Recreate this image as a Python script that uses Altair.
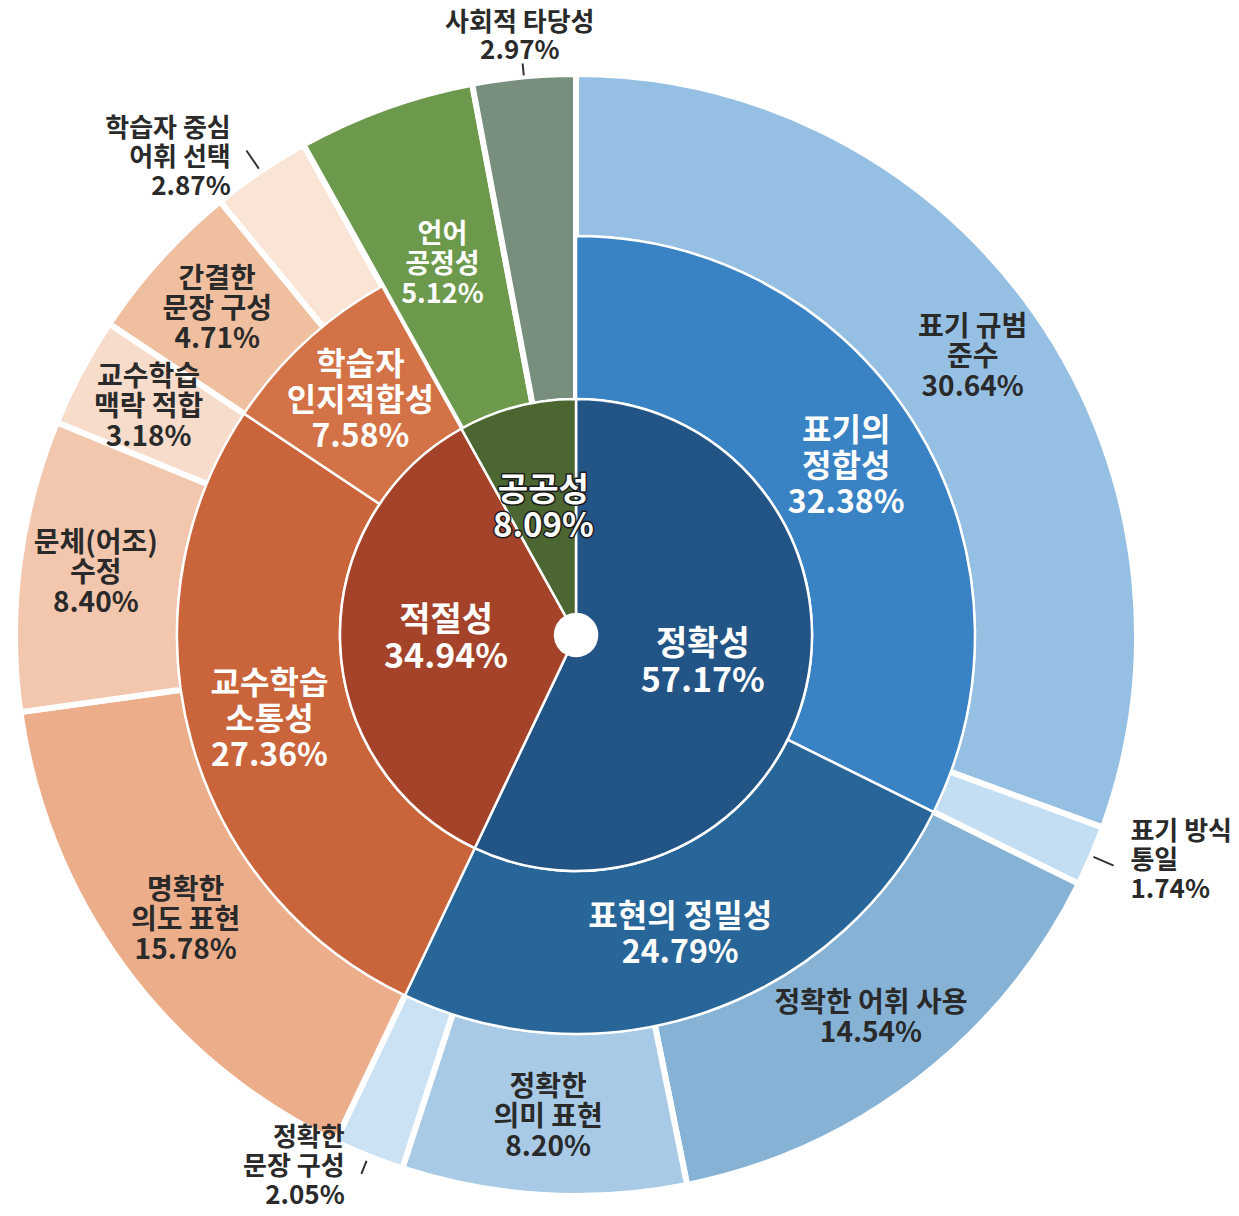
import math
import altair as alt
import pandas as pd

# ---------------- data ----------------
inner_names = ["정확성", "적절성", "공공성"]
inner_values = [57.17, 34.94, 8.09]
inner_display = ["정확성", "적절성", "공공성"]

middle_names = ["표기의 정합성", "표현의 정밀성", "교수학습 소통성", "학습자 인지적합성"]
middle_values = [32.38, 24.79, 27.36, 7.58]
middle_display = ["표기의\n정합성", "표현의 정밀성", "교수학습\n소통성", "학습자\n인지적합성"]

outer_names = ["표기 규범 준수", "표기 방식 통일", "정확한 어휘 사용", "정확한 의미 표현",
               "정확한 문장 구성", "명확한 의도 표현", "문체(어조) 수정", "교수학습 맥락 적합",
               "간결한 문장 구성", "학습자 중심 어휘 선택", "언어 공정성", "사회적 타당성"]
outer_values = [30.64, 1.74, 14.54, 8.20, 2.05, 15.78, 8.40, 3.18, 4.71, 2.87, 5.12, 2.97]
outer_display = ["표기 규범\n준수", "표기 방식\n통일", "정확한 어휘 사용", "정확한\n의미 표현",
                 "정확한\n문장 구성", "명확한\n의도 표현", "문체(어조)\n수정", "교수학습\n맥락 적합",
                 "간결한\n문장 구성", "학습자 중심\n어휘 선택", "언어\n공정성", "사회적 타당성"]
outer_parents = ["표기의 정합성", "표기의 정합성", "표현의 정밀성", "표현의 정밀성", "표현의 정밀성",
                 "교수학습 소통성", "교수학습 소통성", "교수학습 소통성",
                 "학습자 인지적합성", "학습자 인지적합성", "공공성", "공공성"]

# ---------------- styles ----------------
inner_colors = ["#235486", "#A4432A", "#4C6631"]
middle_colors = ["#3982C4", "#286699", "#CA643A", "#D27246"]
outer_colors = ["#96C0E3", "#C3DDF2", "#86B2D6", "#A8CAE6", "#CBE2F4",
                "#ECAE8A", "#F3C7AD", "#F8DCCB", "#EFBFA0", "#FAE4D6",
                "#6D994D", "#788F7E"]

FONT = "Noto Sans CJK KR"
DARK = "#2a2a2a"
CX, CY = 568, 627


def ring_df(names, values, display, parents=None):
    starts, acc = [], 0.0
    for v in values:
        starts.append(acc)
        acc += v
    return pd.DataFrame({
        "name": names,
        "value": values,
        "start": starts,
        "end": [s + v for s, v in zip(starts, values)],
        "mid": [s + v / 2 for s, v in zip(starts, values)],
        "label": [f"{d}\n{v:.2f}%" for d, v in zip(display, values)],
        "parent": parents if parents else names,
    })


inner_df = ring_df(inner_names, inner_values, inner_display)
middle_df = ring_df(middle_names, middle_values, middle_display)
outer_df = ring_df(outer_names, outer_values, outer_display, outer_parents)

total = sum(inner_values)
theta_scale = alt.Scale(domain=[0, total], range=[0, 2 * math.pi])
color_scale = alt.Scale(domain=inner_names + middle_names + outer_names,
                        range=inner_colors + middle_colors + outer_colors)

pos = dict(x=alt.value(CX), y=alt.value(CY))


def arc_layer(df, names, r0, r1, sw):
    return alt.Chart(df).transform_filter(
        alt.FieldOneOfPredicate(field="name", oneOf=names)
    ).mark_arc(innerRadius=r0, outerRadius=r1, stroke="white", strokeWidth=sw).encode(
        theta=alt.Theta("start:Q", scale=theta_scale, stack=False),
        theta2=alt.Theta2("end"),
        color=alt.Color("name:N", scale=color_scale, legend=None),
        **pos,
    )


def texts(df, names, radius, size, lh, fill, align="center", dx=0, dy=0, **kw):
    """One text layer per line count, so every label block is centred on its anchor."""
    groups = {}
    for n in names:
        lbl = df.loc[df["name"] == n, "label"].iloc[0]
        groups.setdefault(lbl.count("\n") + 1, []).append(n)
    out = []
    for nlines, grp in groups.items():
        out.append(alt.Chart(df).transform_filter(
            alt.FieldOneOfPredicate(field="name", oneOf=grp)
        ).mark_text(radius=radius, font=FONT, fontWeight="bold", fontSize=size,
                    lineHeight=lh, lineBreak="\n", fill=fill, align=align,
                    baseline="middle", dx=dx, dy=dy - (nlines - 1) * lh / 2, **kw).encode(
            theta=alt.Theta("mid:Q", scale=theta_scale, stack=False),
            text="label:N",
            **pos,
        ))
    return out


def tick(name, r0, r1):
    return alt.Chart(outer_df).transform_filter(
        alt.FieldEqualPredicate(field="name", equal=name)
    ).mark_arc(innerRadius=r0, outerRadius=r1, stroke="#333333", strokeWidth=2,
               fillOpacity=0).encode(
        theta=alt.Theta("mid:Q", scale=theta_scale, stack=False),
        theta2=alt.Theta2("mid"),
        **pos,
    )


public_children = ["언어 공정성", "사회적 타당성"]
regular_outer = [n for n in outer_names if n not in public_children]
external = ["표기 방식 통일", "정확한 문장 구성", "학습자 중심 어휘 선택", "사회적 타당성"]
inside_outer = [n for n in outer_names if n not in external and n != "언어 공정성"]

layers = [
    arc_layer(outer_df, regular_outer, 397, 561, 6),
    arc_layer(outer_df, public_children, 234, 561, 6),
    arc_layer(middle_df, middle_names, 236, 399, 2.5),
    arc_layer(inner_df, inner_names, 21, 236, 2.5),
]
layers += texts(inner_df, ["정확성", "적절성"], 130, 34, 37, "white")
layers += texts(inner_df, ["공공성"], 130, 33, 36, "white", stroke="#1a1a1a", strokeWidth=3,
                strokeJoin="round")
layers += texts(inner_df, ["공공성"], 130, 33, 36, "white")
layers += texts(middle_df, middle_names, 318, 32, 36, "white")
layers += texts(outer_df, inside_outer, 484, 28, 30, DARK)
layers += texts(outer_df, ["언어 공정성"], 393, 27, 30, "white")
layers += texts(outer_df, ["사회적 타당성"], 604, 26, 28, DARK, dy=3)
layers += texts(outer_df, ["학습자 중심 어휘 선택"], 589, 26, 29, DARK, align="right", dx=-14, dy=10)
layers += texts(outer_df, ["표기 방식 통일"], 600, 26, 29, DARK, align="left", dx=3, dy=-10)
layers += texts(outer_df, ["정확한 문장 구성"], 590, 26, 29, DARK, align="right", dx=-13, dy=-16)
layers += [
    tick("사회적 타당성", 562, 574),
    tick("학습자 중심 어휘 선택", 564, 586),
    tick("표기 방식 통일", 563, 585),
    tick("정확한 문장 구성", 566, 580),
]

chart = alt.layer(*layers).properties(
    width=1223, height=1200, padding=0,
    autosize=alt.AutoSizeParams(type="none"),
).configure_view(strokeWidth=0)

chart.save("out.html", embed_options={"renderer": "svg", "actions": False})
